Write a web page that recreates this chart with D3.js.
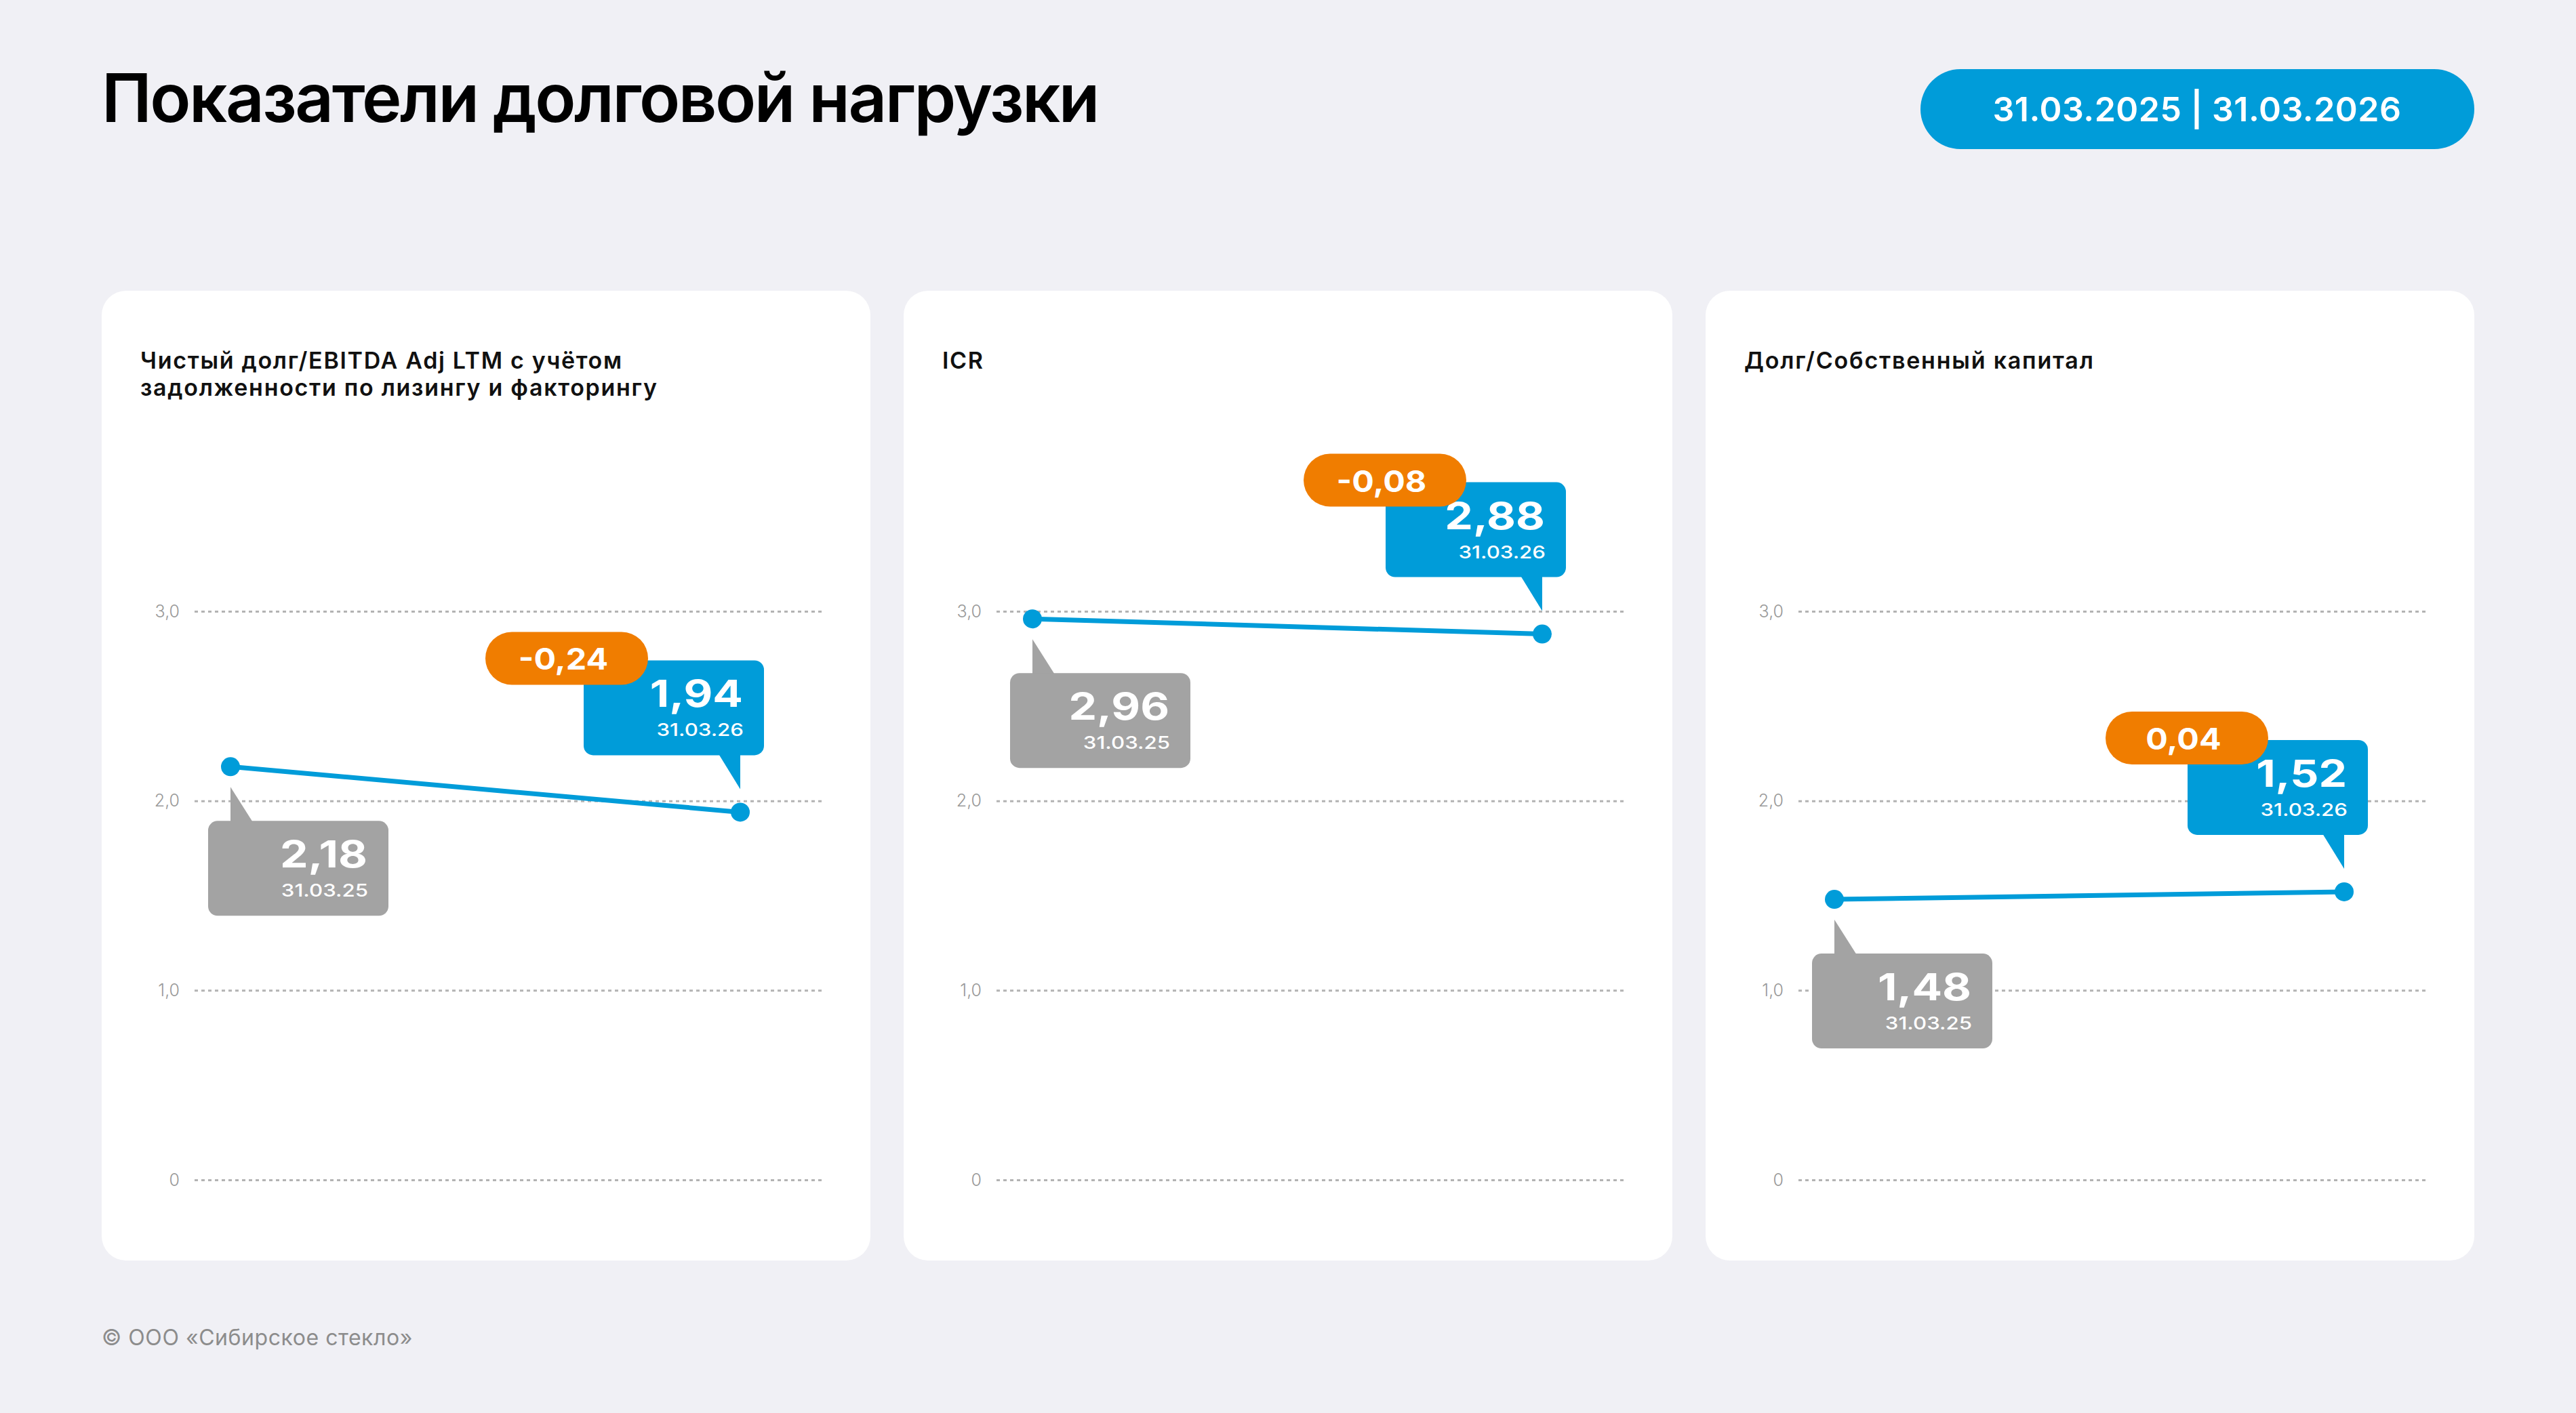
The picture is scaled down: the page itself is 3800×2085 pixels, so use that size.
<!DOCTYPE html>
<html>
<head>
<meta charset="utf-8">
<script src="https://cdn.jsdelivr.net/npm/d3@7"></script>
<style>
  html, body { margin: 0; padding: 0; background: #f0f0f5; }
  svg { display: block; font-family: Inter, "Noto Sans", sans-serif; }
</style>
</head>
<body>
<div id="chart"></div>
<script>
var pageTitle = "Показатели долговой нагрузки";
var periodLabel = "31.03.2025 | 31.03.2026";
var footerText = "© ООО «Сибирское стекло»";

var chartTitles = [
  ["Чистый долг/EBITDA Adj LTM с учётом", "задолженности по лизингу и факторингу"],
  ["ICR"],
  ["Долг/Собственный капитал"]
];
var periods = ["31.03.25", "31.03.26"];
var startValues = [2.18, 2.96, 1.48];
var endValues = [1.94, 2.88, 1.52];
var deltas = [-0.24, -0.08, 0.04];
var yTicks = [0, 1, 2, 3];
var yTickLabels = ["0", "1,0", "2,0", "3,0"];

var size = {w: 3800, h: 2085};
var panel = {x0: 150, y: 429, w: 1134, h: 1431, step: 1183};
var blue = "#009cd9", grey = "#a3a3a3", orange = "#f07d00";
// the first delta pill sits a bit further left than the others
var pillShift = [-145, -121, -121];

var ruNum = d3.formatLocale({decimal: ",", thousands: " ", grouping: [3], currency: ["", ""], minus: "-"});
var fmt2 = ruNum.format(".2f");

// spread letters so a text line gets a given width
function fitWidth(sel, target) {
  sel.each(function() {
    var len = this.getComputedTextLength();
    var n = this.textContent.length;
    d3.select(this).attr("letter-spacing", ((target - len) / n).toFixed(2));
  });
}
// widen glyphs a little (reference face is wider than Inter)
function widen(sel, k) {
  sel.each(function() {
    var len = this.getComputedTextLength();
    d3.select(this).attr("textLength", len * k).attr("lengthAdjust", "spacingAndGlyphs");
  });
}

var svg = d3.select("#chart").append("svg")
  .attr("width", size.w)
  .attr("height", size.h);

svg.append("rect")
  .attr("width", size.w).attr("height", size.h)
  .attr("fill", "#f0f0f5");

svg.append("text")
  .attr("x", 150).attr("y", 180)
  .attr("font-size", "99px")
  .attr("font-weight", 600)
  .attr("fill", "#000")
  .text(pageTitle)
  .call(fitWidth, 1470);

// period pill, top right
svg.append("rect")
  .attr("x", 2833).attr("y", 102)
  .attr("width", 817).attr("height", 118)
  .attr("rx", 59)
  .attr("fill", blue);
svg.append("text")
  .attr("x", 3241).attr("y", 179)
  .attr("text-anchor", "middle")
  .attr("font-size", "50px")
  .attr("font-weight", 600)
  .attr("fill", "#fff")
  .text(periodLabel)
  .call(fitWidth, 603);

svg.append("text")
  .attr("x", 150).attr("y", 1985)
  .attr("font-size", "32px")
  .attr("fill", "#8c8c8c")
  .text(footerText)
  .call(fitWidth, 459);

var y = d3.scaleLinear().domain([0, 3]).range([1741, 902]);

function drawPanel(i) {
  var px = panel.x0 + i * panel.step;
  var g = svg.append("g").attr("class", "panel");

  g.append("rect")
    .attr("x", px).attr("y", panel.y)
    .attr("width", panel.w).attr("height", panel.h)
    .attr("rx", 36)
    .attr("fill", "#fff");

  g.append("text")
    .attr("font-size", "34px")
    .attr("font-weight", 600)
    .attr("fill", "#111")
    .selectAll("tspan")
    .data(chartTitles[i])
    .enter().append("tspan")
    .attr("x", px + 57)
    .attr("y", function(d, k) { return 544 + k * 40; })
    .text(function(d) { return d; })
    .each(function() {
      var len = this.getComputedTextLength();
      d3.select(this).attr("letter-spacing", (len * 0.09 / this.textContent.length).toFixed(2));
    });

  // grid + tick labels
  var gridX0 = px + 137, gridX1 = px + 1065;
  var axis = d3.axisLeft(y)
    .tickValues(yTicks)
    .tickSize(-(gridX1 - gridX0))
    .tickPadding(22)
    .tickFormat(function(d, k) { return yTickLabels[k]; });

  var ax = g.append("g")
    .attr("transform", "translate(" + gridX0 + ",0)")
    .call(axis);
  ax.select(".domain").remove();
  ax.selectAll(".tick line")
    .attr("stroke", "#b3b3b3")
    .attr("stroke-width", 3)
    .attr("stroke-dasharray", "5,5");
  ax.selectAll(".tick text")
    .attr("font-family", "Inter, sans-serif")
    .attr("font-size", "25px")
    .attr("font-weight", 300)
    .attr("fill", "#999");

  var x = d3.scalePoint().domain(periods).range([px + 190, px + 942]);
  var pts = [
    {period: periods[0], value: startValues[i]},
    {period: periods[1], value: endValues[i]}
  ];

  var line = d3.line()
    .x(function(d) { return x(d.period); })
    .y(function(d) { return y(d.value); });

  g.append("path")
    .datum(pts)
    .attr("d", line)
    .attr("fill", "none")
    .attr("stroke", blue)
    .attr("stroke-width", 7);

  g.selectAll(".dot")
    .data(pts)
    .enter().append("circle")
    .attr("class", "dot")
    .attr("cx", function(d) { return x(d.period); })
    .attr("cy", function(d) { return y(d.value); })
    .attr("r", 14)
    .attr("fill", blue);

  // start callout (grey, below point)
  var sx = x(pts[0].period), sy = y(pts[0].value);
  var gb = {x: sx - 33, y: sy + 80, w: 266, h: 140};
  g.append("path")
    .attr("d", "M" + sx + "," + (sy + 30) + "L" + sx + "," + (gb.y + 2) + "L" + (sx + 33) + "," + (gb.y + 2) + "Z")
    .attr("fill", grey);
  g.append("rect")
    .attr("x", gb.x).attr("y", gb.y)
    .attr("width", gb.w).attr("height", gb.h)
    .attr("rx", 14)
    .attr("fill", grey);
  calloutText(g, gb, pts[0]);

  // end callout (blue, above point)
  var ex = x(pts[1].period), ey = y(pts[1].value);
  var bb = {x: ex + 35 - 266, y: ey - 84 - 140, w: 266, h: 140};
  g.append("path")
    .attr("d", "M" + (ex - 32) + "," + (bb.y + bb.h - 2) + "L" + ex + "," + (bb.y + bb.h - 2) + "L" + ex + "," + (ey - 34) + "Z")
    .attr("fill", blue);
  g.append("rect")
    .attr("x", bb.x).attr("y", bb.y)
    .attr("width", bb.w).attr("height", bb.h)
    .attr("rx", 14)
    .attr("fill", blue);
  calloutText(g, bb, pts[1]);

  // delta pill
  var pb = {x: bb.x + pillShift[i], y: bb.y - 42, w: 240, h: 78};
  g.append("rect")
    .attr("x", pb.x).attr("y", pb.y)
    .attr("width", pb.w).attr("height", pb.h)
    .attr("rx", 39)
    .attr("fill", orange);
  g.append("text")
    .attr("x", pb.x + pb.w / 2 - 5)
    .attr("y", pb.y + 56)
    .attr("text-anchor", "middle")
    .attr("font-size", "44px")
    .attr("font-weight", 700)
    .attr("fill", "#fff")
    .text(fmt2(deltas[i]))
    .call(widen, 1.1);
}

function calloutText(g, box, d) {
  g.append("text")
    .attr("x", box.x + box.w - 31)
    .attr("y", box.y + 69)
    .attr("text-anchor", "end")
    .attr("font-size", "55px")
    .attr("font-weight", 700)
    .attr("fill", "#fff")
    .text(fmt2(d.value))
    .call(widen, 1.2);
  g.append("text")
    .attr("x", box.x + box.w - 30)
    .attr("y", box.y + 112)
    .attr("text-anchor", "end")
    .attr("font-size", "26px")
    .attr("font-weight", 500)
    .attr("fill", "#fff")
    .text(d.period)
    .call(widen, 1.2);
}

for (var i = 0; i < chartTitles.length; i++) {
  drawPanel(i);
}
</script>
</body>
</html>
